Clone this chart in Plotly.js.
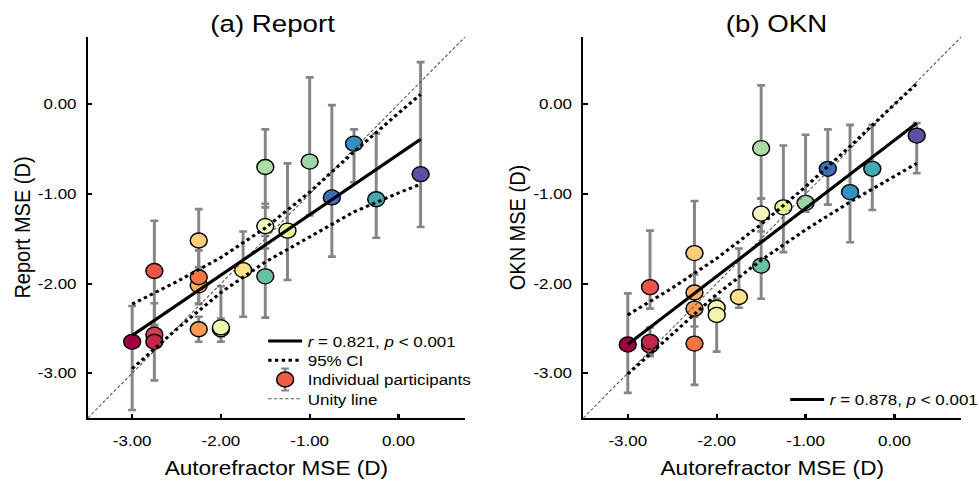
<!DOCTYPE html>
<html>
<head>
<meta charset="utf-8">
<script src="https://cdn.plot.ly/plotly-3.0.1.min.js"></script>
<style>
  html, body { margin: 0; padding: 0; background: #fff; overflow: hidden; }
  #wrap { width: 979px; height: 485px; overflow: hidden; }
  /* the figure is laid out slightly narrower and stretched horizontally */
  #chart { width: 866px; height: 485px; transform: scaleX(1.1305); transform-origin: 0 0; }
</style>
</head>
<body>
<div id="wrap"><div id="chart"></div></div>
<script>
// Autorefractor mean spherical equivalent per participant (D)
const autorefMSE = [-3.00, -2.75, -2.75, -2.75, -2.25, -2.25, -2.25, -2.25, -2.00, -2.00,
                    -1.75, -1.50, -1.50, -1.50, -1.25, -1.00, -0.75, -0.50, -0.25, 0.25];

// Participant colours (Spectral scale)
const participantColors = ['#9e0142', '#d43d4f', '#c2264b', '#e8564a', '#fdcd7b', '#fdb062',
                           '#f47446', '#f99b57', '#fbf6b5', '#f0f6ac', '#fee08b', '#f4f8c0',
                           '#abdda4', '#66c2a5', '#e2f398', '#9cd6a4', '#3d6fbd', '#3290c5',
                           '#45aab0', '#5e4fa2'];

// (a) Report MSE and its error bars
const reportMSE      = [-2.65, -2.57, -2.65, -1.86, -1.52, -2.02, -1.93, -2.51, -2.51, -2.49,
                        -1.85, -1.36, -0.70, -1.92, -1.41, -0.64, -1.04, -0.44, -1.06, -0.78];
const reportErrPlus  = [0.40, 0.10, 0.43, 0.56, 0.35, 0.20, 0.30, 0.14, 0.48, 0.10,
                        0.43, 0.25, 0.42, 0.45, 0.75, 0.94, 1.03, 0.16, 0.73, 1.25];
const reportErrMinus = [0.76, 0.10, 0.43, 0.60, 0.35, 0.20, 0.30, 0.14, 0.14, 0.10,
                        0.52, 0.25, 0.45, 0.46, 0.55, 0.60, 0.66, 0.43, 0.43, 0.59];

// (b) OKN MSE and its error bars
const oknMSE      = [-2.68, -2.69, -2.65, -2.04, -1.66, -2.10, -2.67, -2.28, -2.27, -2.35,
                     -2.15, -1.22, -0.49, -1.80, -1.15, -1.10, -0.72, -0.98, -0.72, -0.35];
const oknErrPlus  = [0.57, 0.10, 0.16, 0.63, 0.58, 0.20, 0.30, 0.20, 0.10, 0.12,
                     0.54, 0.17, 0.70, 0.55, 0.69, 0.76, 0.44, 0.75, 0.49, 0.14];
const oknErrMinus = [0.54, 0.10, 0.16, 0.24, 0.50, 0.20, 0.46, 0.20, 0.10, 0.41,
                     0.12, 0.20, 0.56, 0.37, 0.50, 0.10, 0.40, 0.56, 0.46, 0.42];

// Regression fits
const fitX = [-3.00, 0.25];
const reportFitY = [-2.58, -0.39];
const oknFitY = [-2.68, -0.21];

// 95% confidence bands of the fits
const ciX = [-3.00, -2.50, -2.00, -1.50, -1.00, -0.50, 0.00, 0.25];
const reportCIUpper = [-2.23, -1.98, -1.71, -1.38, -0.98, -0.53, -0.10, 0.11];
const reportCILower = [-2.95, -2.51, -2.10, -1.76, -1.48, -1.20, -0.99, -0.89];
const oknCIUpper = [-2.35, -2.05, -1.72, -1.34, -0.92, -0.47, 0.00, 0.23];
const oknCILower = [-3.01, -2.56, -2.12, -1.74, -1.40, -1.09, -0.80, -0.66];

// Unity line and axes
const unityXY = [-3.50, 0.75];
const axisRange = [-3.50, 0.75];
const tickVals = [-3, -2, -1, 0];
const tickText = ['-3.00', '-2.00', '-1.00', '0.00'];

const FONT = 'Liberation Sans, Arial, Helvetica, sans-serif';
const MARKER_SIZE = 15;
const ERR_COLOR = '#858585';

function panelTraces(xa, ya, yVals, ePlus, eMinus, fitY, ciU, ciL, rLabel, legendId, full) {
  const out = [];
  out.push({
    type: 'scatter', mode: 'markers', xaxis: xa, yaxis: ya,
    x: autorefMSE, y: yVals, showlegend: false, legend: legendId,
    marker: { size: MARKER_SIZE, color: participantColors, line: { color: '#000', width: 1.3 } },
    error_y: { type: 'data', symmetric: false, array: ePlus, arrayminus: eMinus,
               color: ERR_COLOR, thickness: 2.6, width: 3.5 }
  });
  out.push({
    type: 'scatter', mode: 'lines', xaxis: xa, yaxis: ya,
    x: unityXY, y: unityXY, name: 'Unity line', legend: legendId,
    showlegend: full, legendrank: 4,
    line: { color: '#555', width: 1, dash: '3px,2px' }
  });
  out.push({
    type: 'scatter', mode: 'lines', xaxis: xa, yaxis: ya,
    x: ciX, y: ciU, name: '95% CI', legend: legendId, legendgroup: 'ci' + xa,
    showlegend: full, legendrank: 2,
    line: { color: '#000', width: 3, dash: 'dot' }
  });
  out.push({
    type: 'scatter', mode: 'lines', xaxis: xa, yaxis: ya,
    x: ciX, y: ciL, name: '95% CI', legend: legendId, legendgroup: 'ci' + xa,
    showlegend: false,
    line: { color: '#000', width: 3, dash: 'dot' }
  });
  out.push({
    type: 'scatter', mode: 'lines', xaxis: xa, yaxis: ya,
    x: fitX, y: fitY, name: rLabel, legend: legendId,
    showlegend: true, legendrank: 1,
    line: { color: '#000', width: 3 }
  });
  if (full) {
    out.push({
      type: 'scatter', mode: 'markers', xaxis: xa, yaxis: ya,
      x: [null], y: [null], name: 'Individual participants', legend: legendId,
      showlegend: true, legendrank: 3,
      marker: { size: MARKER_SIZE, color: '#ee5d43', line: { color: '#000', width: 1.3 } }
    });
  }
  return out;
}

const data = []
  .concat(panelTraces('x', 'y', reportMSE, reportErrPlus, reportErrMinus, reportFitY,
                      reportCIUpper, reportCILower,
                      '<i>r</i> = 0.821, <i>p</i> &lt; 0.001', 'legend', true))
  .concat(panelTraces('x2', 'y2', oknMSE, oknErrPlus, oknErrMinus, oknFitY,
                      oknCIUpper, oknCILower,
                      '<i>r</i> = 0.878, <i>p</i> &lt; 0.001', 'legend2', false));

function xAxis(domain, anchor) {
  return {
    domain: domain, anchor: anchor, range: axisRange, autorange: false,
    showgrid: false, zeroline: false, showline: true, linecolor: '#000', linewidth: 2,
    ticks: 'inside', ticklen: 4, tickwidth: 2, tickcolor: '#000',
    tickmode: 'array', tickvals: tickVals, ticktext: tickText,
    tickfont: { size: 15, color: '#000', family: FONT }, ticklabelstandoff: 8,
    title: { text: 'Autorefractor MSE (D)', font: { size: 20, color: '#000', family: FONT }, standoff: 13 }
  };
}
function yAxis(anchor, label) {
  return {
    domain: [0, 1], anchor: anchor, range: axisRange, autorange: false,
    showgrid: false, zeroline: false, showline: true, linecolor: '#000', linewidth: 2,
    ticks: 'inside', ticklen: 4, tickwidth: 2, tickcolor: '#000',
    tickmode: 'array', tickvals: tickVals, ticktext: tickText,
    tickfont: { size: 15, color: '#000', family: FONT }, ticklabelstandoff: 5,
    title: { text: label, font: { size: 20, color: '#000', family: FONT }, standoff: 1 }
  };
}

const legendBase = {
  bgcolor: 'rgba(0,0,0,0)', borderwidth: 0, itemwidth: 30, tracegroupgap: 0,
  font: { size: 15, color: '#000', family: FONT }, xanchor: 'left', yanchor: 'top'
};

const layout = {
  width: 866, height: 485,
  margin: { l: 0, r: 0, t: 37, b: 67, pad: 0 },
  paper_bgcolor: '#fff', plot_bgcolor: '#fff',
  font: { family: FONT, color: '#000' },
  xaxis: xAxis([0.0902, 0.4777], 'y'),
  yaxis: yAxis('x', 'Report MSE (D)'),
  xaxis2: xAxis([0.5993, 0.9875], 'y2'),
  yaxis2: yAxis('x2', 'OKN MSE (D)'),
  legend: Object.assign({}, legendBase, { x: 0.2697, y: 0.245 }),
  legend2: Object.assign({}, legendBase, { x: 0.8014, y: 0.091 }),
  annotations: [
    { text: '(a) Report', xref: 'paper', yref: 'paper', x: 0.2799, y: 1.0367,
      xanchor: 'center', yanchor: 'middle', showarrow: false,
      font: { size: 24.5, color: '#000', family: FONT } },
    { text: '(b) OKN', xref: 'paper', yref: 'paper', x: 0.798, y: 1.0367,
      xanchor: 'center', yanchor: 'middle', showarrow: false,
      font: { size: 24.5, color: '#000', family: FONT } }
  ],
  showlegend: true
};

function readTranslate(el) {
  const m = /translate\(([-\d.]+)[ ,]+([-\d.]+)\)/.exec(el.getAttribute('transform') || '');
  return m ? { x: +m[1], y: +m[2] } : { x: 0, y: 0 };
}

Plotly.newPlot('chart', data, layout, { displayModeBar: false, staticPlot: true }).then(function () {
  // tighten the row spacing of the panel (a) legend
  const items = Array.from(document.querySelectorAll('g.legend g.traces')).map(function (el) {
    const t = readTranslate(el);
    return { el: el, x: t.x, y: t.y };
  }).sort(function (a, b) { return a.y - b.y; });
  if (items.length) {
    const y0 = items[0].y;
    items.forEach(function (it, i) {
      it.el.setAttribute('transform', 'translate(' + it.x + ',' + (y0 + i * 19.3) + ')');
    });
  }
  // error-bar glyph behind the participant marker in the legend
  items.forEach(function (it) {
    const txt = it.el.querySelector('text.legendtext');
    if (!txt || txt.textContent !== 'Individual participants') return;
    const pt = it.el.querySelector('path.scatterpts');
    if (!pt) return;
    const ns = 'http://www.w3.org/2000/svg';
    const bar = document.createElementNS(ns, 'path');
    bar.setAttribute('d', 'M0,-11V11M-3.5,-11H3.5M-3.5,11H3.5');
    bar.setAttribute('transform', pt.getAttribute('transform') || '');
    bar.setAttribute('style', 'stroke:' + ERR_COLOR + ';stroke-width:2.2;fill:none');
    pt.parentNode.insertBefore(bar, pt);
  });
  // nudge the panel (b) legend towards the right edge
  const leg2 = document.querySelector('g.legend2');
  if (leg2) {
    const t = readTranslate(leg2);
    leg2.setAttribute('transform', 'translate(' + (t.x + 4) + ',' + t.y + ')');
  }
});
</script>
</body>
</html>
